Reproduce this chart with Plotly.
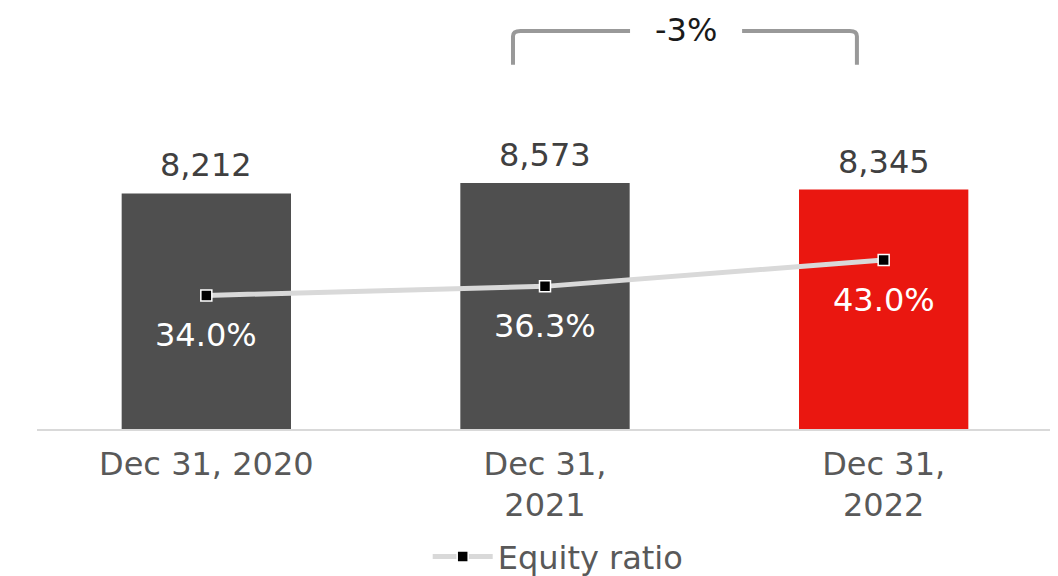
import plotly.graph_objects as go

categories = ["Dec 31, 2020", "Dec 31,<br>2021", "Dec 31,<br>2022"]
equity = [8212, 8573, 8345]
equity_labels = ["8,212", "8,573", "8,345"]
equity_ratio = [0.340, 0.363, 0.430]
ratio_labels = ["34.0%", "36.3%", "43.0%"]
change_label = "-3%"

bar_colors = ["#4f4f4f", "#4f4f4f", "#ea1710"]
font = "DejaVu Sans"

fig = go.Figure()
fig.add_trace(go.Bar(
    x=categories, y=equity,
    marker=dict(color=bar_colors, line=dict(width=0)),
    showlegend=False, hoverinfo="skip",
))
fig.add_trace(go.Scatter(
    x=categories, y=equity_ratio, yaxis="y2",
    mode="lines+markers", name="Equity ratio",
    line=dict(color="#d9d9d9", width=5),
    marker=dict(symbol="square", size=11, color="black",
                line=dict(color="white", width=1.5)),
))

# value labels above bars
for c, v, t in zip(categories, equity, equity_labels):
    fig.add_annotation(x=c, y=v, text=t, showarrow=False, yanchor="bottom",
                       yshift=7, font=dict(size=32, color="#404040", family=font))
# ratio labels under the markers
for c, v, t in zip(categories, equity_ratio, ratio_labels):
    fig.add_annotation(x=c, y=v, yref="y2", text=t, showarrow=False,
                       yanchor="middle", yshift=-40,
                       font=dict(size=32, color="white", family=font))

# bracket with change label
br = dict(color="#999999", width=4)
fig.add_shape(type="path", xref="paper", yref="paper", line=br,
              path="M 0.4685 0.8905 L 0.4685 0.960 Q 0.4685 0.973 0.476 0.973 L 0.5837 0.973")
fig.add_shape(type="path", xref="paper", yref="paper", line=br,
              path="M 0.694 0.973 L 0.800 0.973 Q 0.807 0.973 0.807 0.960 L 0.807 0.8905")
fig.add_annotation(x=0.6385, y=0.975, xref="paper", yref="paper", text=change_label,
                   xanchor="center", yanchor="middle", showarrow=False,
                   font=dict(size=32, color="#1a1a1a", family=font))

fig.update_layout(
    width=1050, height=568,
    margin=dict(l=29, r=5, t=12, b=145),
    paper_bgcolor="white", plot_bgcolor="white",
    font=dict(family=font, size=32, color="#595959"),
    bargap=0.5,
    showlegend=True,
    legend=dict(orientation="h", xref="container", yref="container",
                x=0.524, xanchor="center", y=0.034, yanchor="middle",
                font=dict(size=32, color="#595959"), itemwidth=60),
    xaxis=dict(showgrid=False, showline=True, linecolor="#d9d9d9", linewidth=2,
               ticks="outside", ticklen=5, tickcolor="rgba(0,0,0,0)",
               tickfont=dict(size=32, color="#595959")),
    yaxis=dict(range=[0, 14250], visible=False, showgrid=False),
    yaxis2=dict(range=[0, 1.04], overlaying="y", visible=False, showgrid=False),
)

fig.write_html("out.html")
